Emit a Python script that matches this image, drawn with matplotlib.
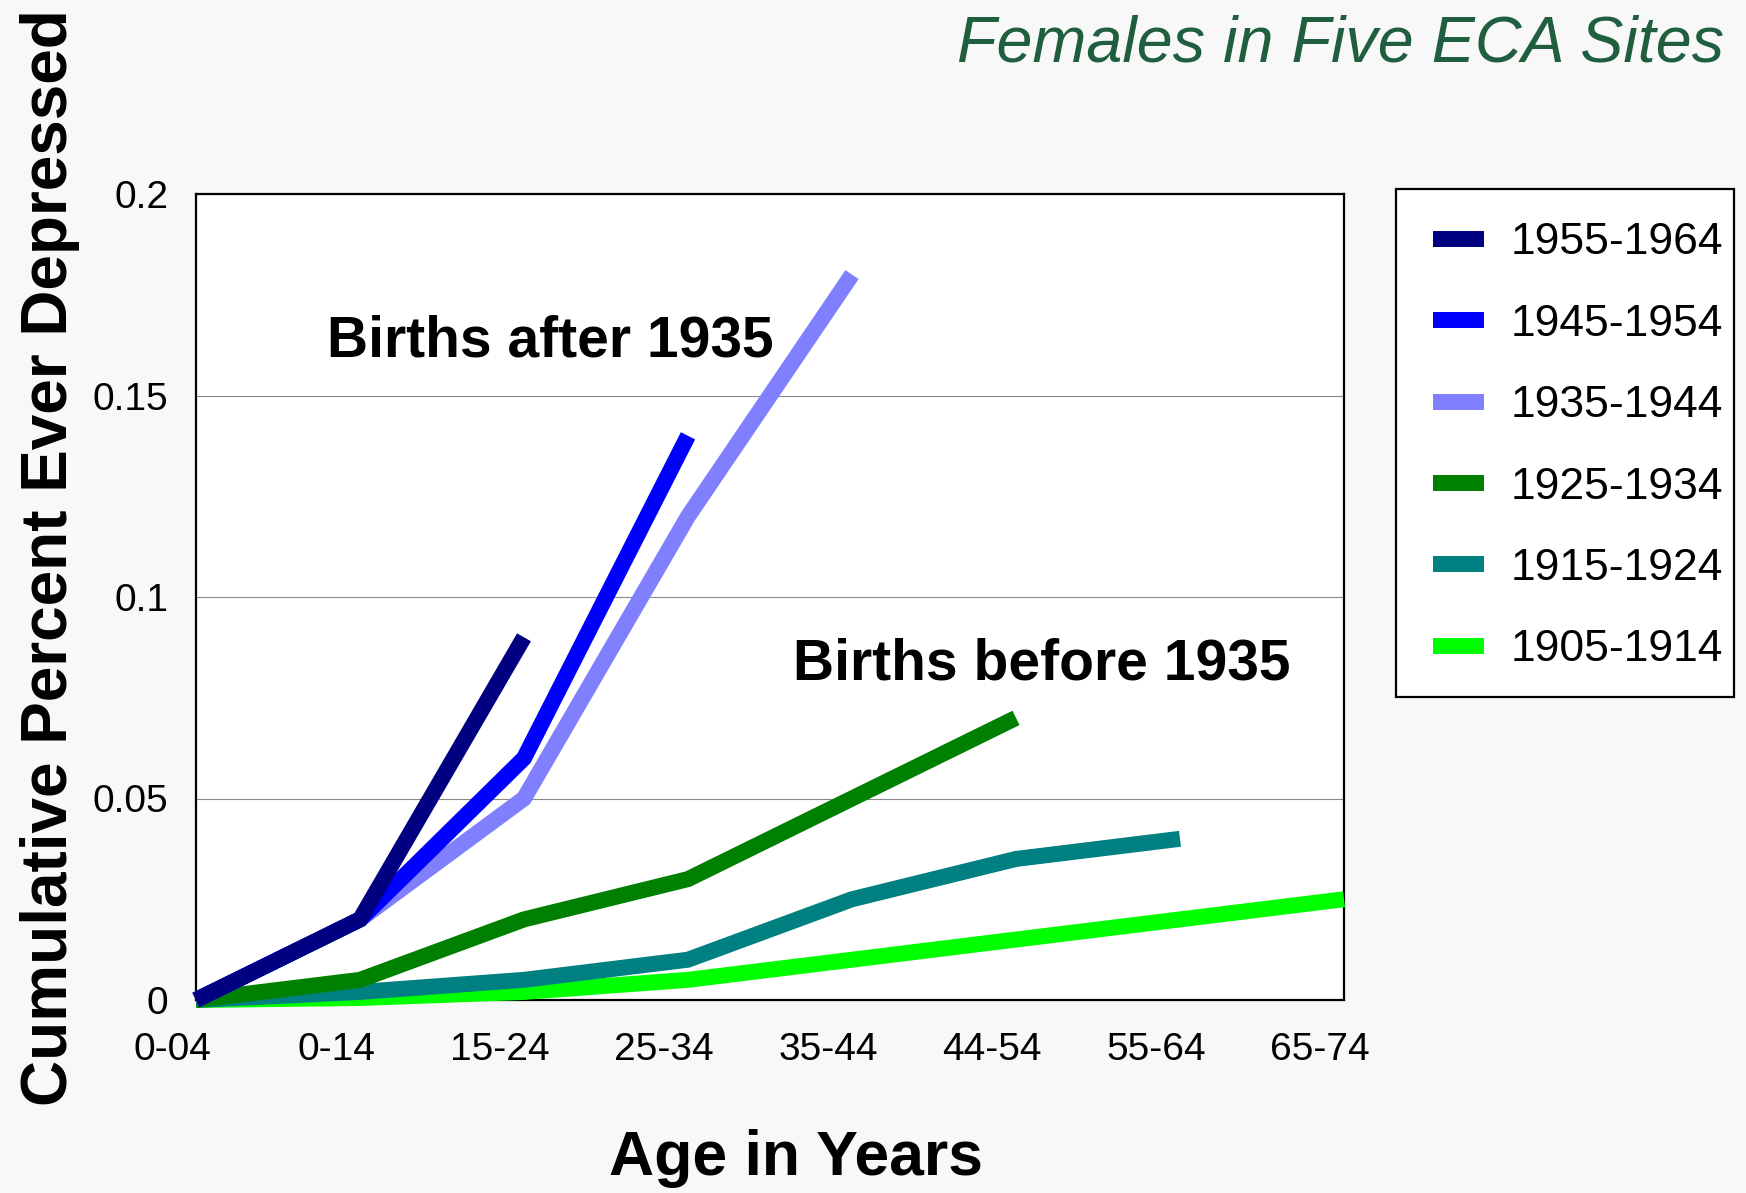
import numpy as np
import matplotlib
matplotlib.use('Agg')
import matplotlib.pyplot as plt
from matplotlib.lines import Line2D
from matplotlib.patches import Rectangle
from matplotlib.transforms import ScaledTranslation

# data
ages = ['0-04', '0-14', '15-24', '25-34', '35-44', '44-54', '55-64', '65-74']
cohorts = ['1955-1964', '1945-1954', '1935-1944', '1925-1934', '1915-1924', '1905-1914']
colors = ['#000080', '#0000ff', '#8080ff', '#008000', '#008080', '#00ff00']
v1955 = [0, 0.02, 0.09]
v1945 = [0, 0.02, 0.06, 0.14]
v1935 = [0, 0.02, 0.05, 0.12, 0.18]
v1925 = [0, 0.005, 0.02, 0.03, 0.05, 0.07]
v1915 = [0, 0.002, 0.005, 0.01, 0.025, 0.035, 0.04]
v1905 = [0, 0.0005, 0.002, 0.005, 0.01, 0.015, 0.02, 0.025]
series = [v1955, v1945, v1935, v1925, v1915, v1905]

W, H = 1746, 1193
fig = plt.figure(figsize=(W / 100, H / 100), dpi=100, facecolor='#f8f8f8')
ax = fig.add_axes([196 / W, 1 - 1000 / H, (1344 - 196) / W, (1000 - 194) / H])
ax.set_facecolor('white')

reg = ['Liberation Sans', 'DejaVu Sans']

# oldest cohort first so the navy line ends up on top
for name, vals, col in reversed(list(zip(cohorts, series, colors))):
    ax.plot(range(len(vals)), vals, color=col, lw=11.5, solid_capstyle='butt',
            solid_joinstyle='miter', clip_on=False, zorder=3)

ax.set_yticks([0, 0.05, 0.1, 0.15, 0.2])
ax.set_yticklabels(['0', '0.05', '0.1', '0.15', '0.2'], family=reg, fontsize=28)
ax.set_xticks(range(len(ages)))
ax.set_xticklabels(ages, family=reg, fontsize=28)
ax.set_xlim(0, 7)
ax.set_ylim(0, 0.2)
ax.tick_params(length=0, pad=20)
ax.tick_params(axis='x', pad=23)
# category labels sit a little left of their points in the original
shift = ScaledTranslation(-0.24, 0, fig.dpi_scale_trans)
for t in ax.xaxis.get_major_ticks():
    t.label1.set_transform(t.label1.get_transform() + shift)
ax.grid(axis='y', color='#888888', lw=0.8, zorder=1)
for s in ax.spines.values():
    s.set_color('black')
    s.set_linewidth(1.6)

fig.text(50 / W, 1 - 558 / H, 'Cumulative Percent Ever Depressed', rotation=90,
         ha='center', va='center', family=reg, fontweight='bold', fontsize=46)
fig.text(796 / W, 1 - 1158 / H, 'Age in Years', ha='center', va='center',
         family=reg, fontweight='bold', fontsize=45)
fig.text(1724 / W, 1 - 45 / H, 'Females in Five ECA Sites', ha='right', va='center',
         family=reg, style='italic', fontsize=46.5, color='#1f5e3f')
fig.text(550 / W, 1 - 342 / H, 'Births after 1935', ha='center', va='center',
         family=reg, fontweight='bold', fontsize=41)
fig.text(1042 / W, 1 - 664 / H, 'Births before 1935', ha='center', va='center',
         family=reg, fontweight='bold', fontsize=41)

# legend box
fig.patches.append(Rectangle((1396 / W, 1 - 697 / H), (1734 - 1396) / W, (697 - 189) / H,
                             transform=fig.transFigure, facecolor='white',
                             edgecolor='black', lw=1.6, zorder=0))
handles = [Line2D([], [], color=c, lw=11.5, solid_capstyle='butt') for c in colors]
fig.legend(handles, cohorts, loc='upper left', bbox_to_anchor=(1411 / W, 1 - 200 / H),
           frameon=False, prop={'family': reg, 'size': 32}, handlelength=1.15,
           handletextpad=0.6, labelspacing=0.91, borderpad=0)

plt.savefig('out.png', dpi=100, facecolor=fig.get_facecolor())
